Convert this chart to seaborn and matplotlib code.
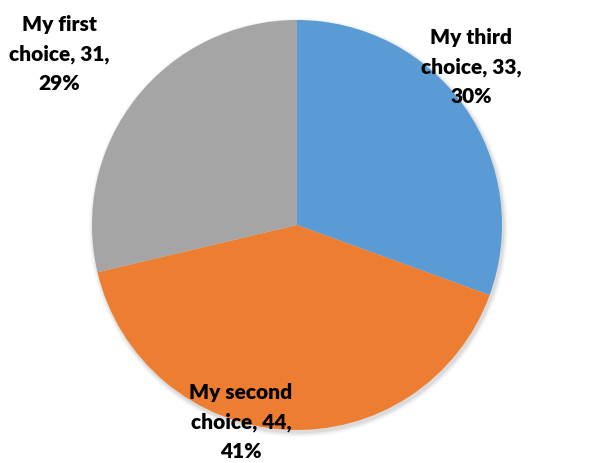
import matplotlib
matplotlib.use("Agg")
import matplotlib.pyplot as plt
from matplotlib.patches import Circle
import seaborn as sns

# Survey answers, in drawing order (clockwise from 12 o'clock)
categories = ["My third choice", "My second choice", "My first choice"]
counts = [33, 44, 31]
percent_labels = ["30%", "41%", "29%"]

sns.set_theme(style="white")
plt.rcParams["font.family"] = ["Lato", "DejaVu Sans"]

colors = ["#5B9BD5", "#ED7D31", "#A5A5A5"]

W, H = 595, 463
fig = plt.figure(figsize=(W / 100, H / 100), dpi=100)
ax = fig.add_axes([0, 0, 1, 1])

cx, cy, r = 297, H - 225, 205

# soft drop shadow under the disc
for i, a in enumerate([0.05, 0.04, 0.03, 0.02]):
    ax.add_patch(Circle((cx + 1.5, cy - 2.5), r + 1 + i * 1.2,
                        facecolor="#000000", alpha=a, edgecolor="none", zorder=0))

ax.pie(counts, colors=colors, startangle=90, counterclock=False,
       center=(cx, cy), radius=r, frame=False,
       wedgeprops=dict(linewidth=0, zorder=1))

ax.set_xlim(0, W)
ax.set_ylim(0, H)
ax.set_aspect("equal")
ax.axis("off")


def wrap(name, count, pct):
    words = name.split()
    return f"{' '.join(words[:-1])}\n{words[-1]}, {count},\n{pct}"


label_pos = [(471, H - 67), (241, H - 422), (59, H - 54)]
for name, count, pct, (x, y) in zip(categories, counts, percent_labels, label_pos):
    ax.text(x, y, wrap(name, count, pct), ha="center", va="center",
            fontsize=15, fontweight=800, color="black",
            linespacing=1.66, zorder=5)

fig.savefig("out.png", dpi=100, facecolor="white")
